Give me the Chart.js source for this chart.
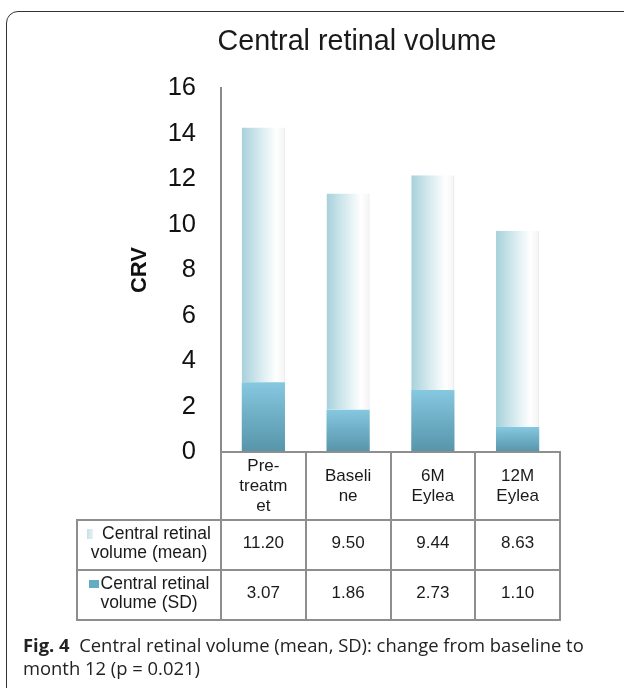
<!DOCTYPE html>
<html><head><meta charset="utf-8">
<script src="https://cdn.jsdelivr.net/npm/chart.js@4/dist/chart.umd.min.js"></script>
<style>
html,body{margin:0;padding:0;background:#fff;}
#wrap{position:relative;width:624px;height:688px;overflow:hidden;background:#fff;}
#frame{position:absolute;left:6px;top:11px;width:680px;height:740px;border:1.5px solid #333;border-radius:12px;box-sizing:border-box;}
#c{position:absolute;left:0;top:0;}
.cell{position:absolute;box-sizing:border-box;display:flex;flex-direction:column;align-items:center;justify-content:center;text-align:center;font-family:'Liberation Sans',Arial,sans-serif;color:#1a1a1a;white-space:nowrap;}
.ln{position:absolute;background:#8e8e8e;}
.mk{display:inline-block;vertical-align:middle;}
#cap{position:absolute;left:23px;top:633px;font-family:'Open Sans',sans-serif;font-size:18.4px;line-height:23px;color:#222;white-space:nowrap;}
</style></head>
<body><div id="wrap"><div id="frame"></div><canvas id="c" width="624" height="688"></canvas><div id="tbl"></div>
<div id="cap"><b>Fig. 4</b>&nbsp;&nbsp;Central retinal volume (mean, SD): change from baseline to<br>month 12 (p = 0.021)</div></div>
<script>
// ---- data ----
const categories = [["Pre-","treatm","et"],["Baseli","ne"],["6M","Eylea"],["12M","Eylea"]];
const meanValues = [11.20, 9.50, 9.44, 8.63];
const sdValues = [3.07, 1.86, 2.73, 1.10];
const seriesNames = [["Central retinal","volume (mean)"],["Central retinal","volume (SD)"]];
const yTicks = [0, 2, 4, 6, 8, 10, 12, 14, 16];
const chartTitle = "Central retinal volume";
const yTitle = "CRV";

const FONT = "'Liberation Sans', Arial, sans-serif";
Chart.defaults.font.family = FONT;
Chart.defaults.color = '#111';

const BAR_PCT = 0.51;

function sdFill(ctx) {
  const chart = ctx.chart;
  if (!chart.chartArea || !chart.scales.y || ctx.type !== 'data') return '#6fb4cd';
  const ys = chart.scales.y;
  const top = ys.getPixelForValue(sdValues[ctx.dataIndex]);
  const base = ys.getPixelForValue(0);
  const g = chart.ctx.createLinearGradient(0, top, 0, base);
  g.addColorStop(0, '#86c8e0');
  g.addColorStop(1, '#5694a9');
  return g;
}
function meanFill(ctx) {
  const chart = ctx.chart;
  if (!chart.chartArea || !chart.scales.x || ctx.type !== 'data') return '#d5eaef';
  const xs = chart.scales.x;
  const cx = xs.getPixelForValue(ctx.dataIndex);
  const step = xs.getPixelForValue(1) - xs.getPixelForValue(0);
  const w = step * BAR_PCT;
  const g = chart.ctx.createLinearGradient(cx - w / 2, 0, cx + w / 2, 0);
  g.addColorStop(0, '#a7d1db');
  g.addColorStop(0.45, '#d9ecf0');
  g.addColorStop(0.8, '#ffffff');
  g.addColorStop(1, '#f3f3f3');
  return g;
}

const chart = new Chart(document.getElementById('c'), {
  type: 'bar',
  data: {
    labels: categories,
    datasets: [
      { label: seriesNames[1].join(' '), data: sdValues, backgroundColor: sdFill, borderWidth: 0,
        barPercentage: BAR_PCT, categoryPercentage: 1.0 },
      { label: seriesNames[0].join(' '), data: meanValues, backgroundColor: meanFill,
        borderColor: 'rgba(0,0,0,0.07)', borderWidth: {top: 0, left: 0, bottom: 0, right: 1.5},
        borderSkipped: false, barPercentage: BAR_PCT, categoryPercentage: 1.0 }
    ]
  },
  options: {
    responsive: false,
    animation: false,
    devicePixelRatio: 1,
    layout: { padding: { left: 127, right: 37, top: 0, bottom: 236 } },
    plugins: {
      legend: { display: false },
      tooltip: { enabled: false },
      title: { display: true, text: chartTitle, color: '#1a1a1a',
        font: { size: 28.7, weight: 'normal', family: FONT }, lineHeight: 1.2, padding: { top: 24.6, bottom: 29 } }
    },
    scales: {
      x: { stacked: true, offset: true,
        grid: { display: false, drawTicks: false }, border: { display: false },
        ticks: { display: false } },
      y: { stacked: true, min: 0, max: 16,
        afterBuildTicks: s => { s.ticks = yTicks.map(v => ({ value: v })); },
        afterFit: s => { s.width = 94; },
        grid: { display: false, drawTicks: false },
        border: { display: true, color: '#8a8a8a', width: 2 },
        ticks: { font: { size: 25.5 }, color: '#111', padding: 25 },
        title: { display: true, text: yTitle, color: '#111', font: { size: 22, weight: 'bold' }, padding: { top: 0, bottom: 0 } } },
      y2: { position: 'right', display: true, min: 0, max: 16,
        afterFit: s => { s.width = 27; },
        grid: { display: false, drawTicks: false }, border: { display: false },
        ticks: { display: false } }
    }
  }
});

// ---- data table under the plot, aligned to the category scale ----
(function buildTable() {
  const tbl = document.getElementById('tbl');
  const ca = chart.chartArea;
  const xs = chart.scales.x;
  const step = xs.getPixelForValue(1) - xs.getPixelForValue(0);
  const edges = categories.map((_, i) => xs.getPixelForValue(i) - step / 2);
  edges.push(xs.getPixelForValue(categories.length - 1) + step / 2);
  const legLeft = 77;
  const headTop = ca.bottom, headH = 68, rowH = 50;
  const r1 = headTop + headH, r2 = r1 + rowH, r3 = r2 + rowH;
  const right = edges[edges.length - 1];
  const T = 2;
  let html = '';
  const hline = (x1, x2, y) => html += `<div class="ln" style="left:${x1 - T/2}px;top:${y - T/2}px;width:${x2 - x1 + T}px;height:${T}px"></div>`;
  const vline = (x, y1, y2) => html += `<div class="ln" style="left:${x - T/2}px;top:${y1 - T/2}px;width:${T}px;height:${y2 - y1 + T}px"></div>`;
  hline(edges[0], right, headTop);
  hline(legLeft, right, r1); hline(legLeft, right, r2); hline(legLeft, right, r3);
  vline(legLeft, r1, r3);
  edges.forEach(x => vline(x, headTop, r3));
  categories.forEach((lab, i) => {
    html += `<div class="cell" style="left:${edges[i]}px;top:${headTop}px;width:${step}px;height:${headH}px;font-size:17px;line-height:20px">${lab.map(s => `<div>${s}</div>`).join('')}</div>`;
    html += `<div class="cell" style="left:${edges[i]}px;top:${r1 - 2}px;width:${step}px;height:${rowH}px;font-size:17px">${meanValues[i].toFixed(2)}</div>`;
    html += `<div class="cell" style="left:${edges[i]}px;top:${r2 - 2}px;width:${step}px;height:${rowH}px;font-size:17px">${sdValues[i].toFixed(2)}</div>`;
  });
  const mk1 = `<span class="mk" style="width:6px;height:10px;margin-right:9px;background:linear-gradient(90deg,#c9e0e6,#e6f1f3)"></span>`;
  const mk2 = `<span class="mk" style="width:10px;height:8px;margin-right:2px;background:#66abc5"></span>`;
  html += `<div class="cell" style="left:${legLeft}px;top:${r1 - 2}px;width:${edges[0] - legLeft}px;height:${rowH}px;font-size:17.5px;line-height:19px"><div>${mk1}${seriesNames[0][0]}</div><div>${seriesNames[0][1]}</div></div>`;
  html += `<div class="cell" style="left:${legLeft}px;top:${r2 - 2}px;width:${edges[0] - legLeft}px;height:${rowH}px;font-size:17.5px;line-height:19px"><div>${mk2}${seriesNames[1][0]}</div><div>${seriesNames[1][1]}</div></div>`;
  tbl.innerHTML = html;
})();
</script>
</body></html>
